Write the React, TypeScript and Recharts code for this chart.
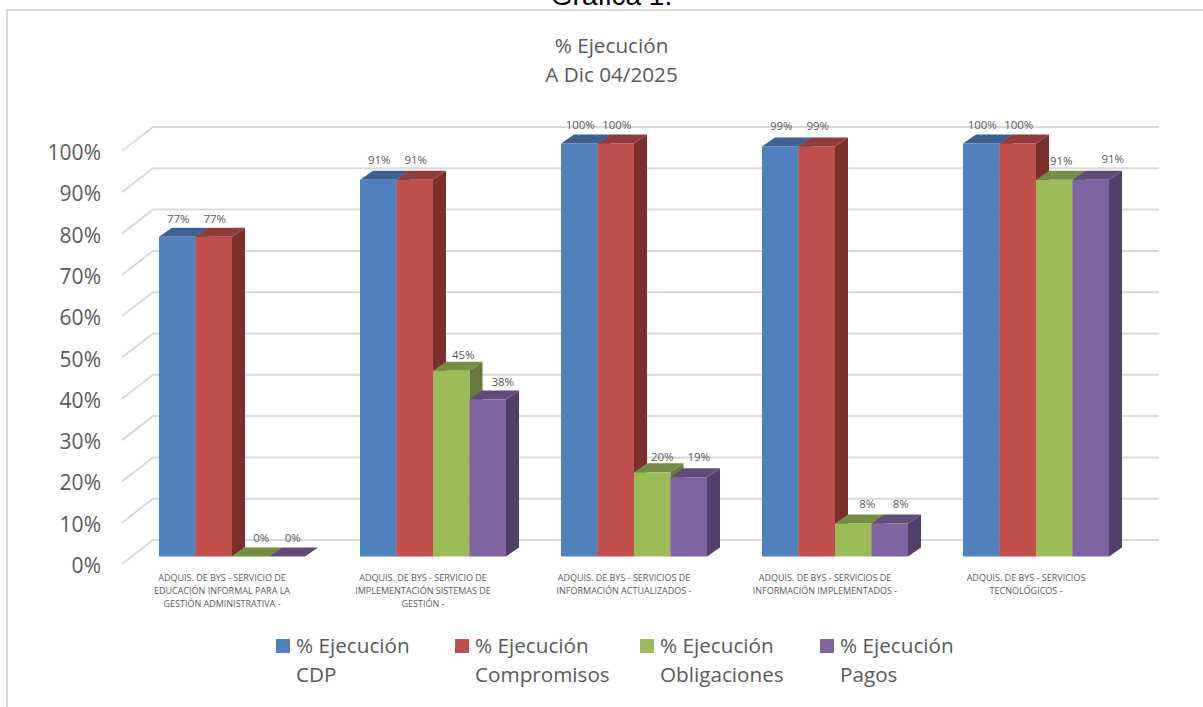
import { Bar, BarChart, CartesianGrid, LabelList, Legend, XAxis, YAxis } from "recharts";

const categories = [
  "ADQUIS. DE BYS - SERVICIO DE|EDUCACIÓN INFORMAL PARA LA|GESTIÓN ADMINISTRATIVA -",
  "ADQUIS. DE BYS - SERVICIO DE|IMPLEMENTACIÓN SISTEMAS DE|GESTIÓN -",
  "ADQUIS. DE BYS - SERVICIOS DE|INFORMACIÓN ACTUALIZADOS -",
  "ADQUIS. DE BYS - SERVICIOS DE|INFORMACIÓN IMPLEMENTADOS -",
  "ADQUIS. DE BYS - SERVICIOS|TECNOLÓGICOS -",
];
const cdp = [77.4, 91.2, 100, 99.3, 100];
const compromisos = [77.4, 91.2, 100, 99.3, 100];
const obligaciones = [0, 45, 20.4, 8, 91.2];
const pagos = [0, 38, 19.2, 8, 91.2];
const yTicks = [0, 10, 20, 30, 40, 50, 60, 70, 80, 90, 100];

const chartData = categories.map((name, i) => ({
  name,
  cdp: cdp[i],
  compromisos: compromisos[i],
  obligaciones: obligaciones[i],
  pagos: pagos[i],
}));

const FONT = "'Open Sans', Lato, sans-serif";
const TEXT = "#595959";
const GRID = "#d9d9d9";

// fake 3D depth of a bar
const DEPTH_X = 13;
const DEPTH_Y = 9;

// labels were dragged by hand in the original, so each one has its own nudge
const SERIES = [
  { key: "cdp", label: ["% Ejecución", "CDP"], front: "#4f81bd", top: "#3c618f", side: "#345480", nudgeX: [1, 1, 1, 1, 1], nudgeY: [-18, -20, -19, -20, -19] },
  { key: "compromisos", label: ["% Ejecución", "Compromisos"], front: "#c0504d", top: "#903c3a", side: "#7a2f2d", nudgeX: [1, 1, 1, 1, 1], nudgeY: [-18, -20, -19, -20, -19] },
  { key: "obligaciones", label: ["% Ejecución", "Obligaciones"], front: "#9bbb59", top: "#748c43", side: "#66793a", nudgeX: [11, 12, 10, 14, 7], nudgeY: [-19, -16, -15, -19, -19] },
  { key: "pagos", label: ["% Ejecución", "Pagos"], front: "#8064a2", top: "#604b7a", side: "#533f6b", nudgeX: [6, 15, 10, 11, 22], nudgeY: [-19, -18, -20, -19, -21] },
];

function Bar3D(props: any) {
  const { x, y, width, height, front, top, side } = props;
  const r = x + width;
  const b = y + height;
  return (
    <g>
      <polygon points={`${r},${y} ${r + DEPTH_X},${y - DEPTH_Y} ${r + DEPTH_X},${b - DEPTH_Y} ${r},${b}`} fill={side} />
      <polygon points={`${x},${y} ${x + DEPTH_X},${y - DEPTH_Y} ${r + DEPTH_X},${y - DEPTH_Y} ${r},${y}`} fill={top} />
      <rect x={x} y={y} width={width} height={height} fill={front} />
    </g>
  );
}

// gridline runs along the side wall and then across the back wall
function GridLine3D(props: any) {
  const { x1, x2, y1, key } = props;
  return (
    <polyline
      key={key}
      points={`${x1 - 9},${y1 + 7.5} ${x1 + 22},${y1 - 16.5} ${x2 + 23},${y1 - 16.5}`}
      fill="none"
      stroke={GRID}
      strokeWidth={2}
    />
  );
}

function YTick({ y, payload }: any) {
  return (
    <text x={101} y={y + 9.5} dy={7} textAnchor="end" fontSize={21} fontFamily={FONT} fill={TEXT}>
      {payload.value}%
    </text>
  );
}

function XTick({ x, payload }: any) {
  const lines = String(payload.value).split("|");
  return (
    <text textAnchor="middle" fontSize={9} fontFamily={FONT} fill={TEXT}>
      {lines.map((line, i) => (
        <tspan key={i} x={x - 9.5} y={581 + i * 13}>
          {line}
        </tspan>
      ))}
    </text>
  );
}

function makeLabel(nudgeX: number[], nudgeY: number[]) {
  return function BarLabel({ x, y, width, value, index }: any) {
    return (
      <text
        x={x + width / 2 + nudgeX[index]}
        y={y + nudgeY[index] + 4}
        textAnchor="middle"
        fontSize={11.5}
        fontFamily={FONT}
        fill={TEXT}
      >
        {Math.round(value)}%
      </text>
    );
  };
}

const legendX = [276, 455, 640, 820];

function LegendContent() {
  return (
    <div style={{ position: "relative", width: 1203, height: 58, fontFamily: FONT, fontSize: 20.7, lineHeight: "29px", color: TEXT }}>
      {SERIES.map((s, i) => (
        <div key={s.key} style={{ position: "absolute", left: legendX[i], top: 0 }}>
          <span style={{ position: "absolute", left: 0, top: 8, width: 14, height: 14, background: s.front }} />
          <div style={{ marginLeft: 20, whiteSpace: "nowrap" }}>
            {s.label[0]}
            <br />
            {s.label[1]}
          </div>
        </div>
      ))}
    </div>
  );
}

export default function App() {
  return (
    <div style={{ position: "absolute", left: 0, top: 0, width: 1203, height: 707, overflow: "hidden", background: "#fff" }}>
      <div style={{ position: "absolute", left: 6, top: 9, width: 1400, height: 800, border: `2px solid ${GRID}` }} />
      <div style={{ position: "absolute", left: 0, width: 1223, top: -19, textAlign: "center", fontFamily: "'Liberation Sans', Arial", fontSize: 28, color: "#000", lineHeight: "30px" }}>
        Gráfica 1.
      </div>
      <div style={{ position: "absolute", left: 0, width: 1223, top: 31, textAlign: "center", fontFamily: FONT, fontSize: 20.7, color: TEXT, lineHeight: "29px" }}>
        % Ejecución
        <br />
        A Dic 04/2025
      </div>
      <div style={{ position: "absolute", left: 0, top: 0 }}>
        <BarChart
          width={1203}
          height={707}
          data={chartData}
          barSize={36.5}
          barGap={0}
          margin={{ top: 143.5, right: 67, bottom: 32.5, left: 0 }}
        >
          <CartesianGrid vertical={false} horizontal={GridLine3D} />
          <XAxis dataKey="name" axisLine={false} tickLine={false} interval={0} height={60} tick={XTick} />
          <YAxis width={131} domain={[0, 100]} ticks={yTicks} axisLine={false} tickLine={false} interval={0} tick={YTick} />
          <Legend content={LegendContent} wrapperStyle={{ left: 0, top: 631, width: 1203, height: 58 }} />
          {SERIES.map((s) => (
            <Bar
              key={s.key}
              dataKey={s.key}
              isAnimationActive={false}
              fill={s.front}
              shape={(p: any) => <Bar3D {...p} front={s.front} top={s.top} side={s.side} />}
            >
              <LabelList dataKey={s.key} content={makeLabel(s.nudgeX, s.nudgeY)} />
            </Bar>
          ))}
        </BarChart>
      </div>
    </div>
  );
}
